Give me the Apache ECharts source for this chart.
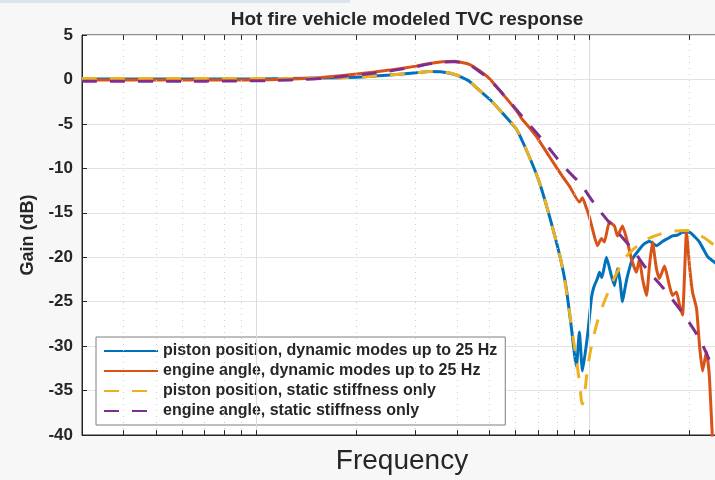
<!DOCTYPE html>
<html>
<head>
<meta charset="utf-8">
<script src="https://cdn.jsdelivr.net/npm/echarts@6/dist/echarts.min.js"></script>
<style>
  html, body { margin: 0; padding: 0; background: #f7f7f7; overflow: hidden; }
  #chart { width: 722px; height: 480px; }
</style>
</head>
<body>
<div id="chart"></div>
<script>
// frequency (Hz) / gain (dB)
const pistonDynFreq = [0.3, 0.5, 1.0, 1.26, 1.55, 2.0, 2.51, 3.02, 3.31, 3.62, 3.99, 4.36, 4.67, 5.01, 5.37, 6.04, 6.6, 7.08, 7.59, 7.96, 8.24, 8.53, 8.8, 9.14, 9.33, 9.53, 9.87, 10.14, 10.3, 10.57, 10.72, 10.9, 11.25, 11.64, 11.89, 12.14, 12.35, 12.57, 12.8, 13.01, 13.46, 14.13, 14.6, 15.14, 15.89, 16.6, 17.2, 17.76, 18.4, 19.03, 19.97, 20.7, 21.4, 22.6, 23.41, 25];
const pistonDynGain = [0.05, 0.05, 0.05, 0.1, 0.15, 0.25, 0.5, 0.75, 0.9, 0.85, 0.5, -0.2, -1.2, -2.2, -3.4, -5.6, -8.7, -11.6, -15.4, -18.3, -20.6, -23.6, -27.5, -32.3, -28.4, -32.8, -28.8, -24.6, -23.4, -22.4, -21.7, -22.3, -20.0, -22.1, -23.2, -21.3, -22.6, -25.0, -23.4, -22.1, -20.2, -19.1, -18.5, -18.2, -18.7, -18.2, -17.9, -17.6, -17.5, -17.2, -17.2, -17.7, -18.3, -19.9, -20.4, -21.2];

const engineDynFreq = [0.3, 0.5, 1.0, 1.26, 1.55, 2.0, 2.51, 3.02, 3.31, 3.62, 3.93, 4.36, 4.67, 5.01, 5.37, 6.04, 6.29, 6.6, 6.93, 7.59, 8.3, 8.71, 9.33, 9.53, 9.8, 10.0, 10.21, 10.57, 10.87, 11.09, 11.48, 11.89, 12.14, 12.57, 13.01, 13.37, 13.84, 14.13, 14.43, 14.84, 15.14, 15.46, 15.89, 16.22, 16.8, 17.39, 17.76, 18.26, 18.64, 19.03, 19.56, 19.97, 20.39, 20.97, 21.4, 21.85, 22.46, 22.93, 23.41, 24.0];
const engineDynGain = [-0.05, -0.05, -0.05, 0.05, 0.2, 0.6, 1.05, 1.5, 1.8, 2.0, 2.05, 1.7, 1.0, 0.1, -1.2, -3.5, -4.5, -5.4, -6.4, -8.7, -10.9, -12.0, -13.8, -13.3, -14.5, -15.5, -16.8, -18.7, -17.9, -18.3, -16.0, -16.5, -17.6, -16.5, -18.3, -20.2, -21.7, -20.2, -22.4, -24.3, -21.0, -18.3, -21.3, -22.4, -21.0, -23.2, -24.3, -23.9, -25.4, -26.5, -17.2, -21.0, -23.9, -25.8, -29.9, -32.8, -30.6, -33.6, -40.5, -45];

const pistonStaticFreq = [0.3, 0.5, 1.0, 1.26, 1.55, 2.0, 2.51, 3.02, 3.31, 3.62, 3.99, 4.36, 4.67, 5.01, 5.37, 6.04, 6.6, 7.08, 7.59, 7.96, 8.24, 8.59, 8.89, 9.14, 9.33, 9.53, 9.7, 9.87, 10.21, 10.72, 11.48, 12.14, 12.92, 13.84, 14.84, 17.03, 19.56, 21.85, 23.41, 25];
const pistonStaticGain = [0.1, 0.1, 0.1, 0.1, 0.15, 0.25, 0.5, 0.75, 0.9, 0.85, 0.5, -0.2, -1.2, -2.2, -3.4, -5.6, -8.7, -11.6, -15.4, -18.3, -20.6, -24.5, -28.5, -31.5, -34.0, -36.5, -35.0, -32.5, -29.5, -26.5, -23.6, -21.6, -19.9, -18.8, -18.0, -17.2, -17.0, -17.7, -18.5, -19.3];

const engineStaticFreq = [0.3, 0.5, 1.0, 1.26, 1.55, 2.0, 2.51, 3.02, 3.31, 3.62, 3.93, 4.36, 4.67, 5.01, 5.37, 6.04, 6.6, 7.08, 7.59, 8.13, 8.83, 9.33, 10.5, 11.72, 13.46, 14.84, 17.03, 19.56, 21.4, 23.41, 25];
const engineStaticGain = [-0.2, -0.2, -0.15, -0.05, 0.1, 0.5, 0.95, 1.45, 1.75, 1.95, 2.0, 1.6, 0.9, 0.0, -1.2, -3.4, -5.1, -6.4, -7.8, -9.2, -10.7, -11.6, -14.3, -16.5, -19.1, -21.3, -23.9, -26.9, -29.2, -32.2, -33.6];

const majorFreqs = [1, 10];
const minorFreqs = [0.4, 0.5, 0.6, 0.7, 0.8, 0.9, 2, 3, 4, 5, 6, 7, 8, 9, 20];
const yTop = 5;
const yBottom = -40;

const names = [
  'piston position, dynamic modes up to 25 Hz',
  'engine angle, dynamic modes up to 25 Hz',
  'piston position, static stiffness only',
  'engine angle, static stiffness only'
];

const pairs = (xs, ys) => xs.map((x, i) => [x, ys[i]]);
const font = 'Liberation Sans, Arial, Helvetica, sans-serif';
const dash = [15, 13];

// short inward tick marks on top and bottom edges
const tickLen = 0.55;
const tickMarks = [];
majorFreqs.concat(minorFreqs).forEach(f => {
  tickMarks.push([{ coord: [f, yTop] }, { coord: [f, yTop - tickLen] }]);
  tickMarks.push([{ coord: [f, yBottom] }, { coord: [f, yBottom + tickLen] }]);
});

const chart = echarts.init(document.getElementById('chart'));

const option = {
  animation: false,
  backgroundColor: '#f7f7f7',
  graphic: [{
    type: 'rect',
    shape: { x: 0, y: 0, width: 350, height: 3 },
    style: { fill: '#dbe3ec' },
    silent: true
  }],
  title: {
    text: 'Hot fire vehicle modeled TVC response',
    left: 402,
    top: 5,
    textAlign: 'center',
    textStyle: { fontFamily: font, fontSize: 19, fontWeight: 'bold', color: '#262626' }
  },
  grid: {
    left: 82, right: 0, top: 35, bottom: 43,
    show: true,
    backgroundColor: '#ffffff',
    borderColor: '#262626',
    borderWidth: 1
  },
  legend: {
    orient: 'vertical',
    left: 96,
    top: 337,
    data: names,
    itemWidth: 54,
    itemHeight: 14,
    itemGap: 4,
    padding: [6, 8, 6, 7],
    itemStyle: { opacity: 0 },
    backgroundColor: '#ffffff',
    borderColor: '#7f7f7f',
    borderWidth: 1,
    textStyle: { fontFamily: font, fontSize: 16, fontWeight: 'bold', color: '#262626' }
  },
  xAxis: {
    type: 'log',
    logBase: 10,
    min: 0.3,
    max: 25,
    name: 'Frequency',
    nameLocation: 'middle',
    nameGap: 12,
    nameTextStyle: { fontFamily: font, fontSize: 28, color: '#262626' },
    axisLine: { show: true, onZero: false, lineStyle: { color: '#262626' } },
    axisTick: { show: false },
    axisLabel: { show: false },
    splitLine: { show: false }
  },
  yAxis: {
    type: 'value',
    min: yBottom,
    max: yTop,
    interval: 5,
    name: 'Gain (dB)',
    nameLocation: 'middle',
    nameGap: 43,
    nameTextStyle: { fontFamily: font, fontSize: 18, fontWeight: 'bold', color: '#262626' },
    axisLine: { show: true, lineStyle: { color: '#262626' } },
    axisTick: { show: true, inside: true, length: 5, lineStyle: { color: '#262626' } },
    axisLabel: { fontFamily: font, fontSize: 17, fontWeight: 'bold', color: '#262626', margin: 9 },
    splitLine: { show: true, lineStyle: { color: '#e3e3e3', width: 1 } }
  },
  series: [
    {
      name: 'grid',
      type: 'line',
      data: [],
      z: 1,
      silent: true,
      markLine: {
        silent: true,
        symbol: 'none',
        label: { show: false },
        animation: false,
        data: majorFreqs.map(f => ({ xAxis: f, lineStyle: { color: '#dcdcdc', width: 1, type: 'solid' } }))
          .concat(minorFreqs.map(f => ({ xAxis: f, lineStyle: { color: '#cccccc', width: 1, type: [1, 5] } })))
      }
    },
    {
      name: 'ticks',
      type: 'line',
      data: [],
      z: 7,
      silent: true,
      markLine: {
        silent: true,
        symbol: 'none',
        label: { show: false },
        animation: false,
        lineStyle: { color: '#262626', width: 1, type: 'solid' },
        data: tickMarks
      }
    },
    {
      name: names[0],
      type: 'line',
      data: pairs(pistonDynFreq, pistonDynGain),
      showSymbol: false,
      symbol: 'none',
      smooth: 0.15,
      lineStyle: { color: '#0072BD', width: 3 },
      itemStyle: { color: '#0072BD' },
      z: 3
    },
    {
      name: names[1],
      type: 'line',
      data: pairs(engineDynFreq, engineDynGain),
      showSymbol: false,
      symbol: 'none',
      smooth: 0.15,
      lineStyle: { color: '#D95319', width: 3 },
      itemStyle: { color: '#D95319' },
      z: 4
    },
    {
      name: names[2],
      type: 'line',
      data: pairs(pistonStaticFreq, pistonStaticGain),
      showSymbol: false,
      symbol: 'none',
      smooth: 0.35,
      lineStyle: { color: '#EDB120', width: 3, type: dash },
      itemStyle: { color: '#EDB120' },
      z: 5
    },
    {
      name: names[3],
      type: 'line',
      data: pairs(engineStaticFreq, engineStaticGain),
      showSymbol: false,
      symbol: 'none',
      smooth: 0.35,
      lineStyle: { color: '#7E2F8E', width: 3, type: dash },
      itemStyle: { color: '#7E2F8E' },
      z: 6
    }
  ]
};

chart.setOption(option);
</script>
</body>
</html>
